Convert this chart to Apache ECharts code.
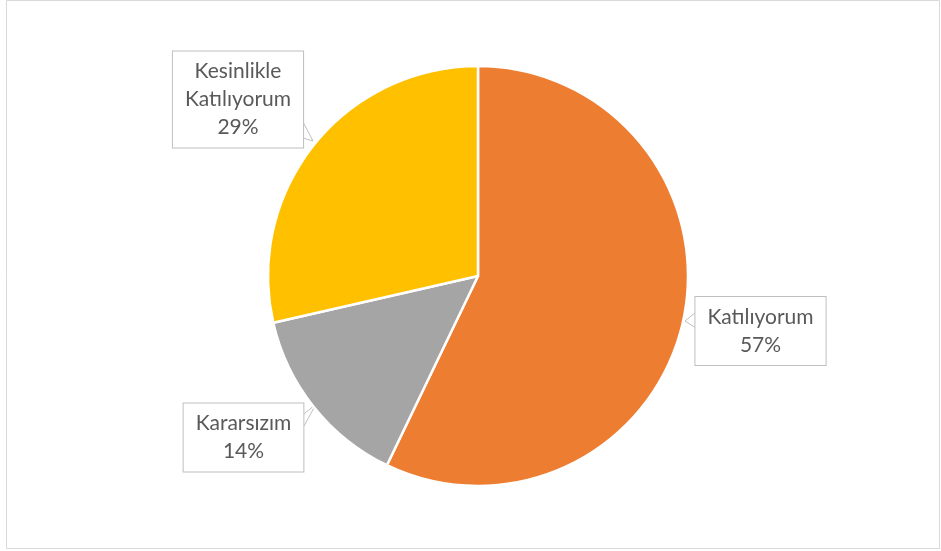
<!DOCTYPE html>
<html>
<head>
<meta charset="utf-8">
<style>
  html, body { margin: 0; padding: 0; background: #fff; }
  #chart { width: 941px; height: 551px; }
</style>
<script src="https://cdn.jsdelivr.net/npm/echarts@6/dist/echarts.min.js"></script>
</head>
<body>
<div id="chart"></div>
<script>
// veriler
const categories = ['Katılıyorum', 'Kararsızım', 'Kesinlikle\nKatılıyorum']
const values = [4, 1, 2]
const colors = ['#ED7D31', '#A5A5A5', '#FFC000']

// etiket kutularının yerleşimi (merkez x, y) ve ok ucu
const labelBoxes = [
  { x: 760.5, y: 331, tip: [[696, 312], [685, 321], [696, 328]] },
  { x: 243.5, y: 437.5, tip: [[304, 414], [316, 404], [304, 426]] },
  { x: 238, y: 99.5, tip: [[303, 122], [313, 141], [303, 138]] }
]

const chart = echarts.init(document.getElementById('chart'))

const options = {
  animation: false,
  graphic: [{
    type: 'rect',
    shape: { x: 6.5, y: 0.5, width: 933, height: 548 },
    style: { fill: 'none', stroke: '#D9D9D9', lineWidth: 1 },
    silent: true
  }],
  series: [{
    type: 'pie',
    center: [478, 276],
    radius: 210,
    startAngle: 90,
    clockwise: true,
    data: categories.map((name, i) => ({
      name,
      value: values[i],
      itemStyle: { color: colors[i] }
    })),
    itemStyle: {
      borderColor: '#fff',
      borderWidth: 2.5
    },
    label: {
      show: true,
      formatter: p => p.name + '\n' + Math.round(p.percent) + '%',
      fontFamily: 'Lato',
      fontSize: 21,
      lineHeight: 28,
      color: '#595959',
      backgroundColor: '#fff',
      borderColor: '#BFBFBF',
      borderWidth: 1,
      padding: [7, 12, 5, 12],
      align: 'center'
    },
    labelLine: {
      show: true,
      lineStyle: { color: '#BFBFBF', width: 1 }
    },
    labelLayout: params => {
      const b = labelBoxes[params.dataIndex]
      return {
        x: b.x,
        y: b.y,
        align: 'center',
        verticalAlign: 'middle',
        labelLinePoints: b.tip
      }
    }
  }]
}

chart.setOption(options)
</script>
</body>
</html>
